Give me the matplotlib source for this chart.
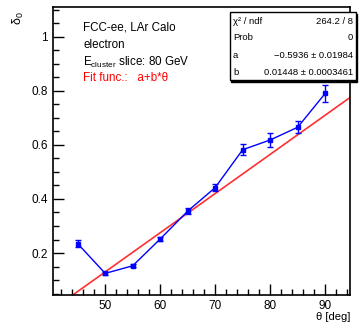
import numpy as np
import matplotlib
matplotlib.use('Agg')
import matplotlib.pyplot as plt
from matplotlib.ticker import MultipleLocator, FormatStrFormatter

plt.rcParams['font.family'] = ['Liberation Sans', 'DejaVu Sans']
plt.rcParams['mathtext.default'] = 'regular'

# data
theta = [45, 50, 55, 60, 65, 70, 75, 80, 85, 90]
delta0 = [0.235, 0.125, 0.153, 0.252, 0.355, 0.442, 0.582, 0.618, 0.665, 0.790]
delta0_err = [0.012, 0.005, 0.006, 0.006, 0.010, 0.012, 0.020, 0.027, 0.022, 0.030]
fit_a = -0.5936
fit_b = 0.01448
stats_labels = [u'\u03c7\u00b2 / ndf', 'Prob', 'a', 'b']
stats_values = ['264.2 / 8', '0', u'\u22120.5936 \u00b1 0.01984', u'0.01448 \u00b1 0.0003461']

fig = plt.figure(figsize=(3.6, 3.26), dpi=100)
ax = fig.add_axes([0.147, 0.095, 0.825, 0.884])

ax.errorbar(theta, delta0, yerr=delta0_err, color='blue', marker='s', markersize=3,
            linewidth=1, capsize=2, elinewidth=1, zorder=3)
xf = np.array([40.5, 94.5])
ax.plot(xf, fit_a + fit_b * xf, color='#ff3030', linewidth=1.2, zorder=2)

ax.set_xlim(40.5, 94.5)
ax.set_ylim(0.045, 1.11)
ax.xaxis.set_major_locator(MultipleLocator(10))
ax.xaxis.set_minor_locator(MultipleLocator(2))
ax.yaxis.set_major_locator(MultipleLocator(0.2))
ax.yaxis.set_minor_locator(MultipleLocator(0.05))
ax.set_yticks([0.2, 0.4, 0.6, 0.8, 1.0])
ax.set_yticklabels(['0.2', '0.4', '0.6', '0.8', '1'])
ax.tick_params(which='major', direction='in', length=8, width=1, labelsize=8.5, colors='black')
ax.tick_params(which='minor', direction='in', length=4, width=1)
ax.tick_params(top=False, right=False)
for s in ax.spines.values():
    s.set_linewidth(1.2)

fig.text(350 / 360, 1 - 317 / 326, u'\u03b8 [deg]', ha='right', va='center', fontsize=8)
fig.text(18 / 360, 1 - 18 / 326, r'$\delta_0$', ha='center', va='center', rotation=90, fontsize=9)

tx = 83 / 360
fig.text(tx, 1 - 28 / 326, 'FCC-ee, LAr Calo', fontsize=8.4, va='center')
fig.text(tx, 1 - 45 / 326, 'electron', fontsize=8.4, va='center')
fig.text(tx, 1 - 62 / 326, r'E$_{cluster}$ slice: 80 GeV', fontsize=8.4, va='center')
fig.text(tx, 1 - 78 / 326, u'Fit func.:   a+b*\u03b8', fontsize=8.4, va='center', color='red')

# stats box
bx0, bx1, by0, by1 = 230 / 360, 356 / 360, 1 - 80 / 326, 1 - 12 / 326
fig.patches.append(plt.Rectangle((bx0 + 0.004, by0 - 0.005), bx1 - bx0, by1 - by0,
                                 transform=fig.transFigure, facecolor='black', edgecolor='black', zorder=5))
fig.patches.append(plt.Rectangle((bx0, by0), bx1 - bx0, by1 - by0,
                                 transform=fig.transFigure, facecolor='white', edgecolor='black',
                                 linewidth=1, zorder=6))
rows = [1 - y / 326 for y in [21, 38, 55, 72]]
for lab, val, y in zip(stats_labels, stats_values, rows):
    fig.text(233 / 360, y, lab, fontsize=6.8, va='center', zorder=7)
    fig.text(353 / 360, y, val, fontsize=6.8, va='center', ha='right', zorder=7)

plt.savefig('out.png', dpi=100)
